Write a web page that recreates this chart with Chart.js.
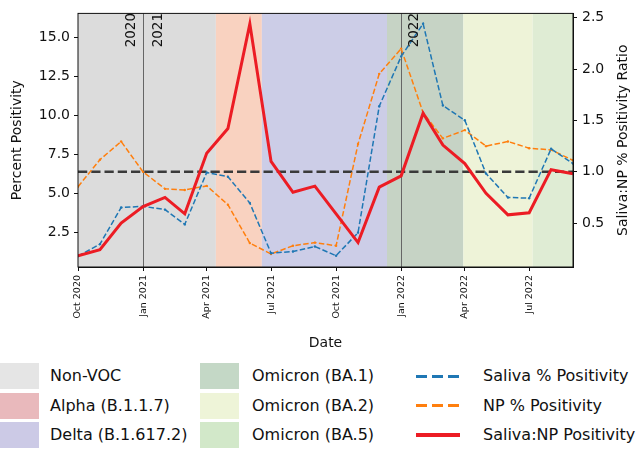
<!DOCTYPE html>
<html>
<head>
<meta charset="utf-8">
<script src="https://cdn.jsdelivr.net/npm/chart.js@4.4.0/dist/chart.umd.min.js"></script>
<style>
body { margin: 0; background: #fff; font-family: "DejaVu Sans", sans-serif; }
#wrap { position: relative; width: 639px; height: 450px; overflow: hidden; }
#c { position: absolute; left: 0; top: 0; }
.patch { position: absolute; width: 39px; height: 26px; }
.sample { position: absolute; width: 44px; }
.txt { position: absolute; font-size: 16px; line-height: 18px; color: #111; white-space: nowrap; }
</style>
</head>
<body>
<div id="wrap">
  <canvas id="c" width="639" height="350"></canvas>
</div>
<script>
// monthly values, first of each month
var months = ["2020-10-01","2020-11-01","2020-12-01","2021-01-01","2021-02-01","2021-03-01",
  "2021-04-01","2021-05-01","2021-06-01","2021-07-01","2021-08-01","2021-09-01",
  "2021-10-01","2021-11-01","2021-12-01","2022-01-01","2022-02-01","2022-03-01",
  "2022-04-01","2022-05-01","2022-06-01","2022-07-01","2022-08-01","2022-09-01"];
var salivaPos = [0.98, 1.75, 4.1, 4.18, 3.97, 3.02, 6.35, 6.08, 4.39, 1.17, 1.28, 1.6,
  1.01, 2.49, 10.6, 13.8, 15.9, 10.65, 9.7, 6.28, 4.75, 4.7, 7.87, 6.92];
var npPos = [5.44, 7.17, 8.34, 6.39, 5.3, 5.23, 5.49, 4.28, 1.82, 1.12, 1.65, 1.85,
  1.65, 8.18, 12.68, 14.3, 10.19, 8.54, 9.07, 8.04, 8.34, 7.91, 7.8, 7.13];
var ratio = [0.18, 0.24, 0.5, 0.66, 0.75, 0.59, 1.18, 1.42, 2.44, 1.1, 0.8, 0.86,
  0.59, 0.31, 0.85, 0.96, 1.57, 1.26, 1.08, 0.79, 0.58, 0.6, 1.02, 0.98];

// variant periods
var periodNames = ["Non-VOC", "Alpha (B.1.1.7)", "Delta (B.1.617.2)", "Omicron (BA.1)", "Omicron (BA.2)", "Omicron (BA.5)"];
var periodStart = ["2020-10-01", "2021-04-14", "2021-06-18", "2021-12-12", "2022-03-30", "2022-07-06"];
var periodEnd   = ["2021-04-14", "2021-06-18", "2021-12-12", "2022-03-30", "2022-07-06", "2022-09-01"];
var periodFill  = ["#dcdcdc", "#f9d2c0", "#cccde7", "#c6d3c5", "#eef3d8", "#dfecd4"];
var periodLegend = ["#e5e5e5", "#e9b9bc", "#cccae6", "#c4d8c6", "#eef4d8", "#d2e8c9"];

var tickDates = ["2020-10-01","2021-01-01","2021-04-01","2021-07-01","2021-10-01","2022-01-01","2022-04-01","2022-07-01"];
var tickLabels = ["Oct 2020","Jan 2021","Apr 2021","Jul 2021","Oct 2021","Jan 2022","Apr 2022","Jul 2022"];
var yearLines = ["2021-01-01", "2022-01-01"];
var seriesNames = ["Saliva % Positivity", "NP % Positivity", "Saliva:NP Positivity"];

function ts(d) { return Date.parse(d + "T00:00:00Z"); }
function pts(vals) { return vals.map(function (v, i) { return { x: ts(months[i]), y: v }; }); }

var FONT = '"DejaVu Sans", sans-serif';

var decor = {
  id: 'decor',
  beforeDatasetsDraw: function (chart) {
    var ctx = chart.ctx, a = chart.chartArea, xs = chart.scales.x;
    ctx.save();
    for (var i = 0; i < periodNames.length; i++) {
      var x0 = xs.getPixelForValue(ts(periodStart[i]));
      var x1 = xs.getPixelForValue(ts(periodEnd[i]));
      ctx.fillStyle = periodFill[i];
      ctx.fillRect(x0, a.top, x1 - x0, a.bottom - a.top);
    }
    ctx.strokeStyle = '#666';
    ctx.lineWidth = 1;
    yearLines.forEach(function (d) {
      var x = Math.round(xs.getPixelForValue(ts(d))) + 0.5;
      ctx.beginPath(); ctx.moveTo(x, a.top); ctx.lineTo(x, a.bottom); ctx.stroke();
    });
    var y = chart.scales.y1.getPixelForValue(1);
    ctx.strokeStyle = '#3a3a3a';
    ctx.lineWidth = 2.5;
    ctx.setLineDash([9.25, 4]);
    ctx.beginPath(); ctx.moveTo(a.left, y); ctx.lineTo(a.right, y); ctx.stroke();
    ctx.restore();
  },
  afterDraw: function (chart) {
    var ctx = chart.ctx, a = chart.chartArea, xs = chart.scales.x;
    ctx.save();
    ctx.strokeStyle = '#111';
    ctx.lineWidth = 1;
    ctx.strokeRect(a.left, a.top, a.right - a.left, a.bottom - a.top);
    ctx.fillStyle = '#111';
    // year labels
    ctx.font = '13.5px ' + FONT;
    ctx.textBaseline = 'middle';
    ctx.textAlign = 'right';
    var yl = [["2020", ts("2021-01-01"), -12], ["2021", ts("2021-01-01"), 15], ["2022", ts("2022-01-01"), 13]];
    yl.forEach(function (t) {
      ctx.save();
      ctx.translate(xs.getPixelForValue(t[1]) + t[2], 13);
      ctx.rotate(-Math.PI / 2);
      ctx.fillText(t[0], 0, 0);
      ctx.restore();
    });
    // axis titles
    ctx.font = '14px ' + FONT;
    ctx.textAlign = 'center';
    var cy = (a.top + a.bottom) / 2;
    ctx.save(); ctx.translate(17.5, cy); ctx.rotate(-Math.PI / 2); ctx.fillText('Percent Positivity', 0, 0); ctx.restore();
    ctx.save(); ctx.translate(623, cy); ctx.rotate(-Math.PI / 2); ctx.fillText('Saliva:NP % Positivity Ratio', 0, 0); ctx.restore();
    ctx.fillText('Date', (a.left + a.right) / 2, 343);
    ctx.restore();
  }
};

new Chart(document.getElementById('c'), {
  type: 'line',
  data: {
    datasets: [{
      label: seriesNames[2],
      data: pts(ratio),
      yAxisID: 'y1',
      borderColor: '#ec1c24',
      borderWidth: 3,
      pointRadius: 0,
      order: 0
    }, {
      label: seriesNames[0],
      data: pts(salivaPos),
      yAxisID: 'y',
      borderColor: '#1f77b4',
      backgroundColor: '#1f77b4',
      borderWidth: 1.5,
      borderDash: [5.5, 2.4],
      pointRadius: 1.2,
      pointBorderWidth: 0,
      order: 1
    }, {
      label: seriesNames[1],
      data: pts(npPos),
      yAxisID: 'y',
      borderColor: '#ff7f0e',
      backgroundColor: '#ff7f0e',
      borderWidth: 1.5,
      borderDash: [5.5, 2.4],
      pointRadius: 1.2,
      pointBorderWidth: 0,
      order: 2
    }]
  },
  options: {
    responsive: false,
    animation: false,
    layout: { padding: { top: 9, left: 0, right: 0, bottom: 0 } },
    plugins: { legend: { display: false }, tooltip: { enabled: false } },
    elements: { line: { tension: 0, fill: false } },
    scales: {
      x: {
        type: 'linear',
        min: ts("2020-10-01"),
        max: ts("2022-09-01"),
        afterBuildTicks: function (s) { s.ticks = tickDates.map(function (d) { return { value: ts(d) }; }); },
        afterFit: function (s) { s.height = 83; },
        grid: { display: true, drawOnChartArea: false, tickLength: 4, color: '#111' },
        border: { display: true, color: '#111' },
        ticks: {
          autoSkip: false, minRotation: 90, maxRotation: 90, padding: 4,
          color: '#111', font: { family: FONT, size: 9.5 },
          callback: function (v, i) { return tickLabels[i]; }
        }
      },
      y: {
        position: 'left',
        min: 0.285, max: 16.56,
        afterFit: function (s) { s.width = 78; },
        grid: { display: true, drawOnChartArea: false, tickLength: 4, color: '#111' },
        border: { display: true, color: '#111' },
        ticks: {
          stepSize: 2.5, includeBounds: false, padding: 4,
          color: '#111', font: { family: FONT, size: 14 },
          callback: function (v) { return v.toFixed(1); }
        }
      },
      y1: {
        position: 'right',
        min: 0.072, max: 2.542,
        afterFit: function (s) { s.width = 66; },
        grid: { display: true, drawOnChartArea: false, tickLength: 4, color: '#111' },
        border: { display: true, color: '#111' },
        ticks: {
          stepSize: 0.5, includeBounds: false, padding: 5,
          color: '#111', font: { family: FONT, size: 14 },
          callback: function (v) { return v.toFixed(1); }
        }
      }
    }
  },
  plugins: [decor]
});

// legend: variant patches in two columns, series samples in a third
var wrap = document.getElementById('wrap');
function add(cls, css, text) {
  var el = document.createElement('div');
  el.className = cls;
  el.style.cssText = css;
  if (text) el.textContent = text;
  wrap.appendChild(el);
}
for (var i = 0; i < periodNames.length; i++) {
  var col = Math.floor(i / 3), row = i % 3;
  var px = col === 0 ? 0 : 200, tx = col === 0 ? 50 : 252;
  var rowTop = 363 + row * 29.5;
  add('patch', 'left:' + px + 'px;top:' + rowTop + 'px;background:' + periodLegend[i]);
  add('txt', 'left:' + tx + 'px;top:' + (rowTop + 4) + 'px', periodNames[i]);
}
var sampleBg = [
  'height:3px;background:repeating-linear-gradient(to right,#1f77b4 0 11px,transparent 11px 16px)',
  'height:3px;background:repeating-linear-gradient(to right,#ff7f0e 0 11px,transparent 11px 16px)',
  'height:4px;background:#ec1c24'
];
for (var j = 0; j < seriesNames.length; j++) {
  var sTop = 363 + j * 29.5;
  add('sample', 'left:416px;top:' + (sTop + 13 - (j === 2 ? 2 : 1.5)) + 'px;' + sampleBg[j]);
  add('txt', 'left:483px;top:' + (sTop + 4) + 'px', seriesNames[j]);
}
</script>
</body>
</html>
